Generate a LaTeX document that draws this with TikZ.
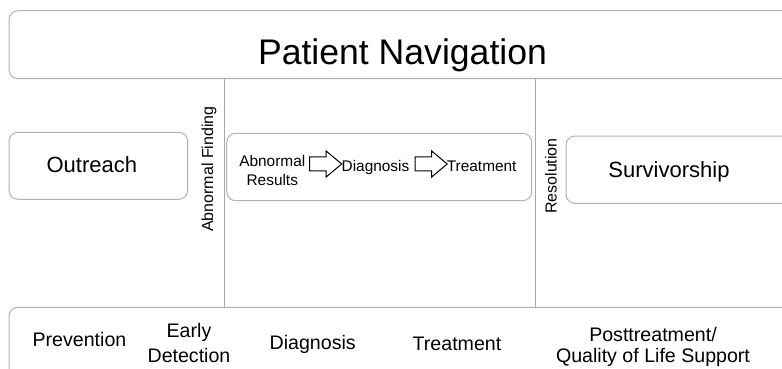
\documentclass[tikz,border=0pt]{standalone}
\usepackage{fontspec}
\setmainfont{Liberation Sans}
\usetikzlibrary{shapes.arrows}
\definecolor{edge}{RGB}{178,178,178}
\definecolor{rule}{RGB}{168,168,168}

\tikzset{
  panel/.style={draw=edge, line width=0.5pt, rounded corners=4.5pt, inner sep=0pt},
  stage/.style={font=\fontsize{9.8}{12.5}\selectfont, align=center, anchor=base, inner sep=0pt},
  flowtext/.style={font=\fontsize{7.7}{9.2}\selectfont, align=center, anchor=base, inner sep=0pt},
  flowarrow/.style={single arrow, draw, line width=0.5pt, inner xsep=0pt, inner ysep=3.25pt,
    minimum height=16pt, single arrow head extend=3pt, single arrow tip angle=80},
  side/.style={font=\fontsize{8}{9.6}\selectfont, rotate=90, anchor=base, inner sep=0pt}
}

\begin{document}
\begin{tikzpicture}[x=0.5pt,y=-0.5pt]
\useasboundingbox (0,0) rectangle (782,369);
\clip (0,0) rectangle (782,369);

\coordinate (finding) at (224,0);
\coordinate (resolved) at (535,0);

% boxes
\node[panel, minimum width=393pt, minimum height=34pt] (nav) at (402,44.7) {};
\node[panel, minimum width=89.35pt, minimum height=33.5pt] (outreach) at (98.35,165.8) {};
\node[panel, minimum width=152.5pt, minimum height=33.7pt] (care) at (379.2,167) {};
\node[panel, minimum width=114.5pt, minimum height=33.65pt] (survivor) at (680.5,169.7) {};
\node[panel, minimum width=393pt, minimum height=36.35pt] (phases) at (402,343.6) {};

\draw[rule, line width=0.5pt] (nav.south -| finding) -- (phases.north -| finding);
\draw[rule, line width=0.5pt] (nav.south -| resolved) -- (phases.north -| resolved);

% labels
\node[anchor=base, inner sep=0pt, font=\fontsize{17.8}{20}\selectfont] (navlabel) at (402.5,65) {Patient Navigation};
\node[anchor=base, inner sep=0pt, font=\fontsize{11}{13}\selectfont] (outlabel) at (91.8,172.5) {Outreach};
\node[anchor=base, inner sep=0pt, font=\fontsize{11}{13}\selectfont] (survlabel) at (669,177) {Survivorship};

\node[side] (abfind) at (213,169) {Abnormal Finding};
\node[side] (resol) at (556.5,176) {Resolution};

% flow inside the middle box
\node[flowtext] (results) at (272.3,185) {Abnormal\\Results};
\node[flowtext] (diag) at (375.5,171.7) {Diagnosis};
\node[flowtext] (treat) at (481.7,171) {Treatment};
\node[flowarrow] (arrA) at (321.5,164) {};
\node[flowarrow] (arrB) at (427,164) {};

% stages along the bottom
\node[stage] (prev) at (79.5,346.7) {Prevention};
\node[stage] (early) at (189,362.7) {Early\\Detection};
\node[stage] (diagnosis) at (312.7,349.5) {Diagnosis};
\node[stage] (treatment) at (457,350) {Treatment};
\node[stage, font=\fontsize{9.8}{10.5}\selectfont] (post) at (653,362.7) {Posttreatment/\\Quality of Life Support};

\end{tikzpicture}
\end{document}
